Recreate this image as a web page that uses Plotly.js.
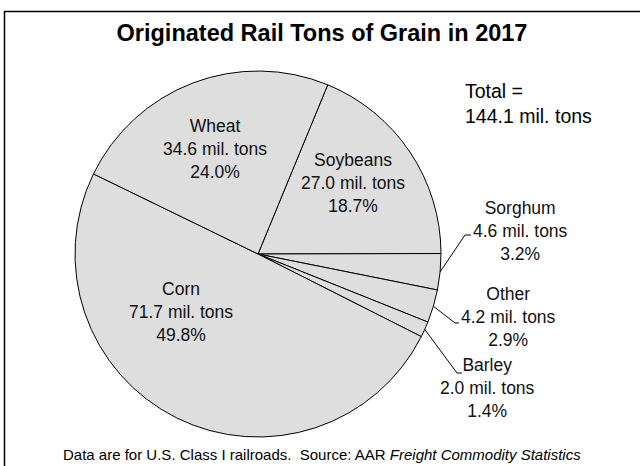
<!DOCTYPE html>
<html><head><meta charset="utf-8">
<script src="https://cdn.plot.ly/plotly-3.0.1.min.js"></script>
<style>html,body{margin:0;padding:0;background:#fff}#chart{width:640px;height:466px}</style>
</head><body><div id="chart"></div>
<script>
// ---- data ----
const categories = ['Soybeans', 'Sorghum', 'Other', 'Barley', 'Corn', 'Wheat'];
const tons = [27.0, 4.6, 4.2, 2.0, 71.7, 34.6];
const shares = [18.7, 3.2, 2.9, 1.4, 49.8, 24.0];
const totalTons = 144.1;
const titleText = 'Originated Rail Tons of Grain in 2017';
const footerText = 'Data are for U.S. Class I railroads.  Source: AAR <i>Freight Commodity Statistics</i>';

// ---- layout helpers ----
const W = 640, H = 466;
const cx = 258, cy = 254, R = 183;
const rotation = 22.4;
const px = x => x / W;
const py = y => 1 - y / H;
const FONT = 'Liberation Sans, Arial, sans-serif';

// label centres (pixels) and leader elbows for outside labels
const labelPos = {
  Soybeans: [353, 183], Sorghum: [520, 231], Other: [508, 317],
  Barley: [487, 388], Corn: [181, 312], Wheat: [215, 149]
};
const leaders = {
  Sorghum: [[465, 235], [471, 235]],
  Other: [[455, 323], [459, 323]],
  Barley: [[457, 373], [462, 373]]
};

const sum = tons.reduce((a, b) => a + b, 0);
let acc = 0;
const midAngles = tons.map(v => { const m = rotation + 360 * (acc + v / 2) / sum; acc += v; return m; });

const annotations = categories.map((c, i) => ({
  text: c + '<br>' + tons[i].toFixed(1) + ' mil. tons<br>' + shares[i].toFixed(1) + '%',
  x: px(labelPos[c][0]), y: py(labelPos[c][1]), xref: 'paper', yref: 'paper',
  xanchor: 'center', yanchor: 'middle', align: 'center', showarrow: false,
  font: {family: FONT, size: 17.5, color: '#111'}
}));
annotations.push({
  text: 'Total =<br>' + totalTons.toFixed(1) + ' mil. tons',
  x: px(463), y: py(103), xref: 'paper', yref: 'paper', xanchor: 'left', yanchor: 'middle',
  align: 'left', showarrow: false, font: {family: FONT, size: 19.5, color: '#000'}
});
annotations.push({
  text: footerText, x: px(322), y: py(454), xref: 'paper', yref: 'paper',
  xanchor: 'center', yanchor: 'middle', showarrow: false,
  font: {family: FONT, size: 15, color: '#000'}
});

const shapes = [];
categories.forEach((c, i) => {
  if (!leaders[c]) return;
  const a = midAngles[i] * Math.PI / 180;
  const sx = cx + R * Math.sin(a), sy = cy - R * Math.cos(a);
  const [e, f] = leaders[c];
  shapes.push({
    type: 'path', xref: 'paper', yref: 'paper',
    path: `M ${px(sx)} ${py(sy)} L ${px(e[0])} ${py(e[1])} L ${px(f[0])} ${py(f[1])}`,
    line: {color: '#000', width: 1}
  });
});
shapes.push({
  type: 'rect', xref: 'paper', yref: 'paper',
  x0: px(4.5), x1: px(660), y0: py(480), y1: py(11.5),
  line: {color: '#000', width: 1.5}, fillcolor: 'rgba(0,0,0,0)'
});

const trace = {
  type: 'pie', labels: categories, values: tons, sort: false,
  direction: 'clockwise', rotation: rotation,
  marker: {colors: categories.map(() => '#dedede'), line: {color: '#000', width: 1}},
  textinfo: 'none', hoverinfo: 'none', showlegend: false,
  domain: {x: [px(cx - R), px(cx + R)], y: [py(cy + R), py(cy - R)]}
};

const layout = {
  width: W, height: H, margin: {l: 0, r: 0, t: 0, b: 0},
  paper_bgcolor: '#fff', plot_bgcolor: '#fff', showlegend: false,
  title: {text: '<b>' + titleText + '</b>', x: px(322), xanchor: 'center', xref: 'paper',
    y: py(33), yanchor: 'middle', yref: 'container',
    font: {family: FONT, size: 23.5, color: '#000'}},
  annotations: annotations, shapes: shapes
};

Plotly.newPlot('chart', [trace], layout, {displayModeBar: false, staticPlot: true});
</script></body></html>
